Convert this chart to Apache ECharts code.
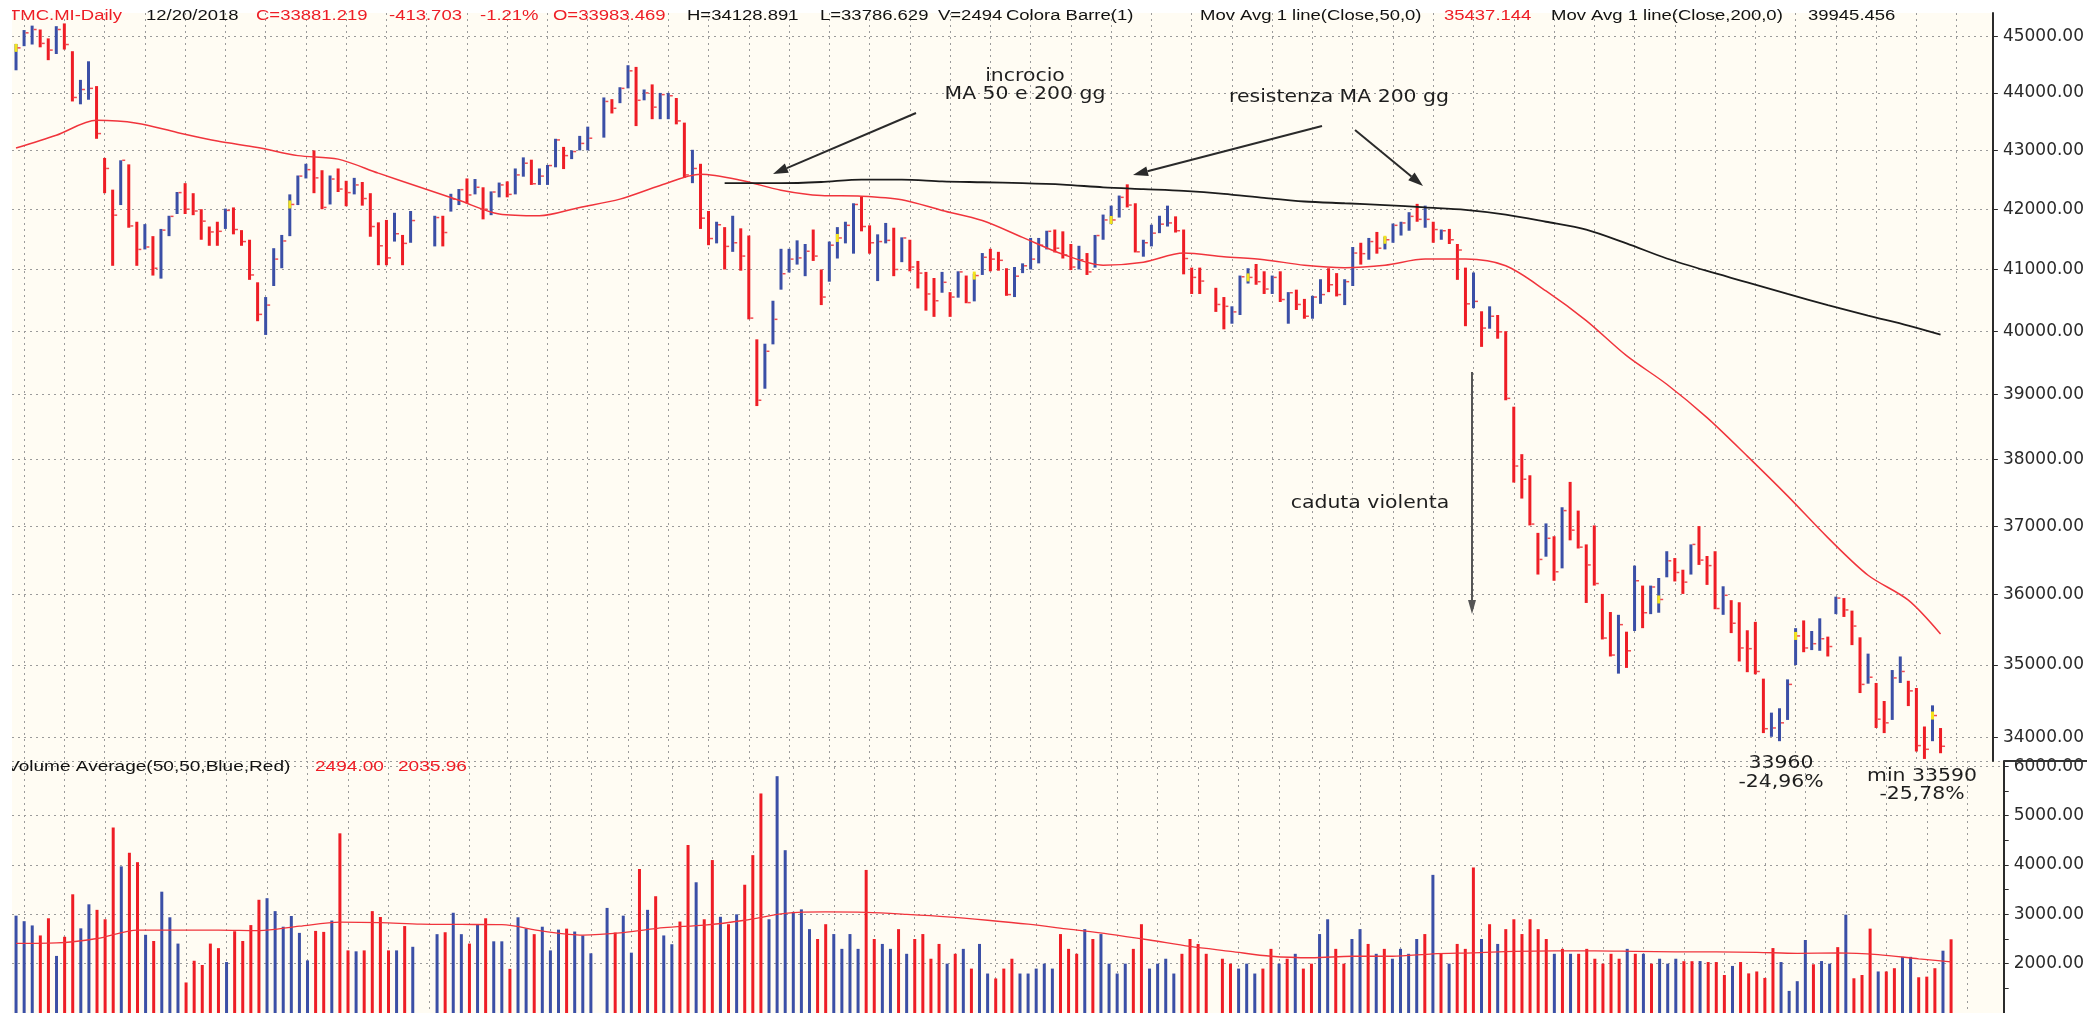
<!DOCTYPE html>
<html>
<head>
<meta charset="utf-8">
<title>TMC.MI Daily</title>
<script src="https://cdn.jsdelivr.net/npm/echarts@6.0.0/dist/echarts.min.js"></script>
<style>
  html, body { margin: 0; padding: 0; background: #fff; }
  #chart { width: 2087px; height: 1013px; }
</style>
</head>
<body>
<div id="chart"></div>
<script>
// colori
const RED = '#ee1d25';
const BLUE = '#3b4fa6';
const BG = '#fffcf3';
const GRIDLINE = '#9b9b9b';

// slot della griglia (240 sedute + margine a destra)
const slots = [];
for (let i = 1; i <= 246; i++) slots.push(String(i));

// dati giornalieri (null = seduta mancante)
const highs = [
  44870, 45120, 45200, 45130, 44970, 45190, 45240, 44740, 44230, 44560,
  44120, 42870, 42330, 42830, 42760, 41790, 41750, 41550, 41670, 41890,
  42290, 42440, 42270, 42000, 41710, 41790, 42010, 42030, 41650, 41490,
  40790, 40550, 41350, 41570, 42250, 42570, 42770, 43000, 42660, 42570,
  42690, 42480, 42530, 42460, 42270, 41780, 41820, 41940, 41570, 41970,
  null, null, 41890, 41890, 42260, 42340, 42520, 42510, 42370, 42300,
  42450, 42470, 42690, 42880, 42840, 42690, 42750, 43200, 43060, 43000,
  43250, 43410, null, 43920, 43890, 44100, 44490, 44460, 44060, 44150,
  44000, 44000, 43910, 43480, 43010, 42770, 41970, 41790, 41700, 41890,
  41680, 41560, 39870, 39800, 40490, 41340, 41340, 41480, 41420, 41660,
  41000, 41460, 41700, 41790, 42100, 42210, 41730, 41580, 41770, 41690,
  41530, 41490, 41140, 40960, 40860, 40960, 40630, 40970, 40900, 40930,
  41270, 41340, 41290, 41020, 41040, 41100, 41520, 41520, 41640, 41660,
  41630, 41420, 41390, 41270, 41570, 41910, 42060, 42230, 42420, 42100,
  41490, 41740, 41890, 42060, 41880, 41660, 41030, 41030, null, 40700,
  40550, 40400, 40900, 41020, 41090, 40970, 40900, 40970, 40630, 40670,
  40520, 40570, 40840, 41020, 40940, 40840, 41370, 41440, 41520, 41620,
  41540, 41760, 41790, 41950, 42090, 42060, 41790, 41660, 41670, 41420,
  41030, 40950, 40320, 40400, 40260, 40000, 38810, 38080, 37760, 36900,
  37040, 36850, 37280, 37660, 37230, 36730, 37010, 36010, 35750, 35710,
  35470, 36420, 36130, 36130, 36240, 36630, 36530, 36360, 36730, 37000,
  36560, 36630, 36120, 35920, 35890, 35490, 35610, 34810, 34340, 34400,
  34800, 35520, 35630, 35480, 35660, 35400, 35970, 35950, 35770, 35390,
  35160, 34750, 34500, 34930, 35120, 34780, 34680, 34150, 34440, 34129
];
const lows = [
  44400, 44830, 44860, 44810, 44580, 44690, 44770, 43850, 43800, 43880,
  43200, 42270, 41060, 42070, 41690, 41060, 41330, 40900, 40850, 41550,
  41920, 41920, 41900, 41490, 41390, 41390, 41670, 41580, 41390, 40830,
  40160, 39940, 40730, 41020, 41550, 42070, 42520, 42270, 42000, 42080,
  42290, 42050, 42250, 42060, 41540, 41070, 41070, 41460, 41070, 41440,
  null, null, 41380, 41380, 41960, 42070, 42100, 42250, 41830, 41900,
  42200, 42200, 42250, 42550, 42410, 42410, 42410, 42710, 42680, 42850,
  43000, 43000, null, 43220, 43640, 43820, 44080, 43420, 43870, 43540,
  43540, 43540, 43450, 42530, 42440, 41670, 41400, 41430, 41000, 41290,
  40980, 40190, 38820, 39090, 39790, 40670, 40950, 41080, 40890, 41140,
  40420, 40800, 41180, 41430, 41260, 41630, 41260, 40810, 41430, 40890,
  41120, 40970, 40690, 40330, 40230, 40620, 40230, 40540, 40450, 40480,
  40910, 40970, 40980, 40570, 40550, 40940, 41000, 41100, 41330, 41280,
  41180, 40990, 41000, 40910, 41030, 41490, 41750, 41860, 42030, 41280,
  41210, 41380, 41600, 41710, 41610, 40920, 40600, 40600, null, 40310,
  40030, 40120, 40260, 40770, 40750, 40600, 40600, 40470, 40120, 40340,
  40200, 40200, 40440, 40630, 40560, 40420, 40730, 41080, 41160, 41260,
  41330, 41440, 41560, 41640, 41790, 41690, 41440, 41490, 41420, 40830,
  40080, 40370, 39750, 40040, 39880, 38910, 37650, 37410, 37010, 36290,
  36550, 36200, 36380, 36790, 36670, 35880, 36130, 35360, 35120, 34880,
  34960, 35480, 35520, 35720, 35740, 36250, 36190, 36010, 36290, 36430,
  36140, 35790, 35710, 35450, 35050, 34900, 34870, 34060, 34010, 33950,
  34240, 35000, 35180, 35210, 35200, 35120, 35720, 35680, 35280, 34610,
  34740, 34130, 34060, 34240, 34750, 34430, 33810, 33710, 33950, 33787
];
const closes = [
  44800, 45070, 45130, 44880, 44760, 45130, 44860, 43920, 44060, 44080,
  43290, 42690, 41900, 42830, 41720, 41330, 41370, 41020, 41650, 41880,
  42280, 42000, 41970, 41800, 41620, 41630, 41980, 41660, 41460, 40910,
  40270, 40420, 41170, 41470, 42080, 42560, 42670, 42530, 42030, 42510,
  42340, 42280, 42410, 42180, 41710, 41390, 41190, 41590, 41430, 41810,
  null, null, 41860, 41610, 42170, 42330, 42240, 42370, 42000, 42290,
  42410, 42250, 42580, 42780, 42430, 42560, 42740, 43180, 42910, 42980,
  43120, 43210, null, 43850, 43730, 44080, 44390, 43870, 44000, 43750,
  43970, 43950, 43510, 42580, 42690, 41850, 41510, 41740, 41380, 41440,
  41220, 40210, 38910, 39680, 40190, 40930, 41170, 41190, 41300, 41220,
  40550, 41400, 41520, 41730, 42080, 41710, 41440, 41460, 41480, 41000,
  41520, 41040, 40940, 40600, 40490, 40790, 40550, 40960, 40460, 40900,
  41200, 41170, 41150, 40590, 40890, 41060, 41170, 41400, 41630, 41350,
  41240, 41040, 41160, 40960, 41560, 41820, 41820, 42200, 42070, 41290,
  41440, 41600, 41750, 41770, 41640, 41180, 40870, 40810, null, 40430,
  40400, 40310, 40880, 40870, 40800, 40680, 40870, 40510, 40620, 40430,
  40240, 40550, 40590, 40750, 40590, 40800, 41270, 41260, 41460, 41350,
  41490, 41730, 41770, 41880, 41830, 41830, 41660, 41640, 41490, 41320,
  40440, 40480, 40050, 40240, 39990, 38940, 37900, 37700, 37030, 36510,
  36820, 36330, 37230, 36940, 36690, 36430, 36160, 35380, 35140, 35570,
  35200, 36200, 35740, 36110, 35930, 36490, 36320, 36180, 36730, 36500,
  36420, 35800, 35990, 35590, 35240, 35230, 34910, 34120, 34130, 34200,
  34730, 35410, 35240, 35300, 35370, 35260, 35950, 35780, 35550, 34730,
  34830, 34250, 34200, 34820, 34910, 34640, 33890, 33840, 34300, 33881
];
// B = barra blu (rialzo), R = barra rossa (ribasso)
const colours = (
  'BBBRRBRRBB' + 'RRRBRRBRBB' + 'BRRRRRBRRR' + 'RBBBBBBRRB' + 'RRBRRRRBRB' +
  '--BRBBRBRB' + 'BRBBRBBBRB' + 'BB-BRBBRBR' + 'BBRRBRRBRB' + 'RRRBBBBBBR' +
  'RBBBBRRBBR' + 'BRRRRBRBRB' + 'BRRRBBBBBR' + 'RRBRBBBBRR' + 'BBBBRRRR-R' +
  'RBBBRRBRBR' + 'RBBRRBBRBR' + 'BBBBRBRBRR' + 'RBRBRRRRRR' + 'BRBRRRRRRB' +
  'RBRBBBRRBR' + 'RRBRRRRRBB' + 'BBRBBRBRRR' + 'BRRBBRRRBR'
).split('');
const yellowBars = [0, 34, 102, 119, 136, 153, 170, 204, 221, 238];

const volumes = [
  2973, 2861, 2775, 2572, 2920, 2157, 2545, 3406, 2716, 3203,
  3091, 2900, 4760, 3972, 4248, 4057, 2585, 2460, 3459, 2940,
  2407, 1619, 2059, 1973, 2407, 2315, 2033, 2657, 2460, 2782,
  3295, 3327, 3065, 2749, 2966, 2624, 2066, 2664, 2644, 2874,
  4642, 2269, 2250, 2269, 3065, 2946, 2269, 2269, 2762, 2342,
  null, null, 2598, 2637, 3032, 2598, 2407, 2789, 2920, 2453,
  2453, 1895, 2940, 2716, 2598, 2749, 2269, 2690, 2710, 2651,
  2572, 2210, null, 3130, 2631, 2973, 2223, 3919, 3091, 3367,
  2572, 2394, 2854, 4405, 3650, 2900, 4100, 2950, 2800, 3000,
  3600, 4200, 5450, 2900, 5800, 4300, 3050, 3100, 2700, 2500,
  2800, 2600, 2300, 2600, 2300, 3900, 2500, 2400, 2300, 2700,
  2200, 2500, 2600, 2100, 2400, 2000, 2200, 2300, 1900, 2400,
  1800, 1700, 1900, 2100, 1800, 1800, 1900, 2000, 1900, 2600,
  2300, 2200, 2700, 2500, 2600, 2000, 1800, 2000, 2300, 2800,
  1900, 2000, 2100, 1800, 2200, 2500, 2400, 2200, null, 2100,
  2000, 1900, 2000, 1800, 1900, 2300, 2000, 2100, 2200, 1900,
  2000, 2600, 2900, 2300, 2000, 2500, 2700, 2400, 2200, 2300,
  2100, 2300, 2200, 2500, 2600, 3800, 2200, 2000, 2400, 2300,
  3950, 2500, 2800, 2400, 2700, 2900, 2600, 2900, 2700, 2500,
  2200, 2300, 2200, 2200, 2300, 2100, 2000, 2200, 2100, 2300,
  2200, 2200, 2000, 2100, 2000, 2100, 2050, 2050, 2053, 2033,
  2033, 1770, 1954, 2033, 1803, 1842, 1711, 2316, 2033, 1448,
  1645, 2480, 1987, 2053, 2000, 2335, 2993, 1704, 1770, 2710,
  1842, 1842, 1908, 2138, 2138, 1724, 1737, 1908, 2263, 2494
];

// medie mobili, [seduta, valore]
const ma50 = [
  [0, 43040], [5, 43260], [10, 43520], [15, 43470], [20, 43310], [25, 43160],
  [30, 43050], [35, 42910], [40, 42850], [45, 42610], [50, 42380], [55, 42150],
  [60, 41920], [65, 41890], [70, 42030], [75, 42170], [80, 42400], [85, 42590],
  [90, 42490], [95, 42320], [100, 42230], [105, 42220], [110, 42160], [115, 41980],
  [120, 41810], [125, 41530], [130, 41250], [135, 41070], [140, 41120], [145, 41270],
  [150, 41210], [155, 41160], [160, 41070], [165, 41030], [170, 41070], [175, 41170],
  [180, 41170], [185, 41060], [190, 40650], [195, 40170], [200, 39610], [205, 39160],
  [210, 38640], [215, 38050], [220, 37450], [225, 36830], [230, 36280], [235, 35920],
  [239, 35437]
];
const ma200 = [
  [88, 42440], [90, 42440], [95, 42440], [100, 42460], [105, 42500], [110, 42500],
  [115, 42470], [120, 42455], [125, 42440], [130, 42415], [135, 42370], [140, 42340],
  [145, 42310], [150, 42260], [155, 42190], [160, 42130], [165, 42100], [170, 42070],
  [175, 42030], [180, 41990], [185, 41910], [190, 41790], [195, 41660], [200, 41430],
  [205, 41180], [210, 40975], [215, 40790], [220, 40600], [225, 40420], [230, 40250],
  [235, 40090], [239, 39945]
];
const volAvg = [
  [0, 2410], [5, 2420], [10, 2510], [15, 2680], [20, 2680], [25, 2680], [30, 2670],
  [35, 2760], [40, 2840], [45, 2830], [50, 2800], [55, 2795], [60, 2790], [65, 2660],
  [70, 2580], [75, 2630], [80, 2730], [85, 2780], [90, 2880], [95, 3020], [100, 3050],
  [105, 3040], [110, 3000], [115, 2950], [120, 2880], [125, 2800], [130, 2700],
  [135, 2600], [140, 2480], [145, 2350], [150, 2250], [155, 2150], [160, 2120],
  [165, 2150], [170, 2150], [175, 2200], [180, 2220], [185, 2250], [190, 2260],
  [195, 2260], [200, 2250], [205, 2240], [210, 2237], [215, 2230], [220, 2210],
  [225, 2217], [230, 2184], [235, 2099], [239, 2036]
];

const priceTicks = [34000, 35000, 36000, 37000, 38000, 39000, 40000, 41000, 42000, 43000, 44000, 45000];

// dati per le serie
const ohlcData = [];
highs.forEach((h, i) => {
  if (h == null) return;
  ohlcData.push([i, h, lows[i], closes[i], colours[i] === 'B' ? 1 : 0, yellowBars.includes(i) ? 1 : 0]);
});
const volData = volumes.map((v, i) =>
  v == null ? '-' : { value: v, itemStyle: { color: colours[i] === 'B' ? BLUE : RED } }
);

function drawBar(params, api) {
  const i = api.value(0);
  const top = api.coord([i, api.value(1)]);
  const bottom = api.coord([i, api.value(2)]);
  const close = api.coord([i, api.value(3)]);
  const color = api.value(4) ? BLUE : RED;
  const kids = [{
    type: 'line',
    shape: { x1: top[0], y1: top[1], x2: bottom[0], y2: bottom[1] },
    style: { stroke: color, lineWidth: 3 }
  }];
  if (api.value(5)) {
    kids.push({ type: 'rect', shape: { x: close[0] - 1.5, y: close[1] - 4, width: 3, height: 8 }, style: { fill: '#f4e41c' } });
  }
  kids.push({
    type: 'line',
    shape: { x1: close[0] + 1.5, y1: close[1], x2: close[0] + 4.5, y2: close[1] },
    style: { stroke: '#f04a50', lineWidth: 1.5 }
  });
  return { type: 'group', children: kids };
}

// testi e frecce
const HEAD = '14px "Liberation Sans", Arial, sans-serif';
const NOTE = '17px "DejaVu Sans", sans-serif';

function txt(x, y, text, color, font, sx, align) {
  return {
    type: 'text', x: x, y: y, scaleX: sx, z: 150,
    style: {
      text: text, fill: color, font: font,
      align: align, verticalAlign: 'middle',
      textAlign: align, textVerticalAlign: 'middle'
    }
  };
}

function arrow(x1, y1, x2, y2, color, len, half) {
  const a = Math.atan2(y2 - y1, x2 - x1);
  const bx = x2 - len * Math.cos(a), by = y2 - len * Math.sin(a);
  const px = -Math.sin(a) * half, py = Math.cos(a) * half;
  return [
    { type: 'line', z: 150, shape: { x1: x1, y1: y1, x2: bx, y2: by }, style: { stroke: color, lineWidth: 2 } },
    { type: 'polygon', z: 150, shape: { points: [[x2, y2], [bx + px, by + py], [bx - px, by - py]] }, style: { fill: color } }
  ];
}

const header = [
  [9, 'TMC.MI-Daily', RED], [146, '12/20/2018', '#111'], [256, 'C=33881.219', RED],
  [389, '-413.703', RED], [480, '-1.21%', RED], [553, 'O=33983.469', RED],
  [687, 'H=34128.891', '#111'], [820, 'L=33786.629', '#111'], [938, 'V=2494', '#111'],
  [1006, 'Colora Barre(1)', '#111'], [1200, 'Mov Avg 1 line(Close,50,0)', '#111'],
  [1444, '35437.144', RED], [1551, 'Mov Avg 1 line(Close,200,0)', '#111'], [1808, '39945.456', '#111']
];
const volHeader = [
  [7, 'Volume Average(50,50,Blue,Red)', '#111'], [315, '2494.00', RED], [398, '2035.96', RED]
];
const notes = [
  [1025, 77, 'incrocio'], [1025, 95, 'MA 50 e 200 gg'], [1339, 98, 'resistenza MA 200 gg'],
  [1370, 504, 'caduta violenta'], [1781, 764, '33960'], [1781, 783, '-24,96%'],
  [1922, 777, 'min 33590'], [1922, 795, '-25,78%']
];

const elements = [];
header.forEach(h => elements.push(txt(h[0], 16, h[1], h[2], HEAD, 1.32, 'left')));
volHeader.forEach(h => elements.push(txt(h[0], 767, h[1], h[2], HEAD, 1.36, 'left')));
notes.forEach(n => elements.push(txt(n[0], n[1], n[2], '#1e1e1e', NOTE, 1.2, 'center')));
elements.push(...arrow(916, 113, 773, 174, '#2a2a2a', 15, 5));
elements.push(...arrow(1322, 126, 1133, 175, '#2a2a2a', 15, 5));
elements.push(...arrow(1355, 130, 1423, 186, '#2a2a2a', 15, 5));
elements.push(...arrow(1472, 372, 1472, 614, '#555555', 14, 4));
elements.push({ type: 'line', z: 150, shape: { x1: 2004, y1: 761, x2: 2087, y2: 761 }, style: { stroke: '#333', lineWidth: 2 } });
elements.push({ type: 'rect', z: 160, shape: { x: 0, y: 0, width: 12, height: 1013 }, style: { fill: '#ffffff' } });

const dotted = { color: GRIDLINE, type: [2, 4], width: 1 };
const axisFont = { fontFamily: 'DejaVu Sans', fontSize: 17, color: '#2a2a2a' };

const option = {
  animation: false,
  backgroundColor: '#ffffff',
  grid: [
    { left: 12, right: 83, top: 13, height: 748, show: true, backgroundColor: BG, borderWidth: 0 },
    { left: 12, right: 83, top: 761, height: 259, show: true, backgroundColor: BG, borderWidth: 0 }
  ],
  xAxis: [0, 1].map(g => ({
    type: 'category', gridIndex: g, data: slots, boundaryGap: true,
    axisLine: { show: false }, axisTick: { show: false }, axisLabel: { show: false },
    splitLine: { show: true, alignWithLabel: true, interval: idx => idx % 5 === 1, lineStyle: dotted }
  })),
  yAxis: [
    {
      type: 'log', logBase: 10, gridIndex: 0, position: 'right',
      min: 33682, max: 45429,
      axisLine: { show: true, lineStyle: { color: '#2b2b2b', width: 2 } },
      axisTick: { show: true, length: 5, customValues: priceTicks, lineStyle: { color: '#2b2b2b' } },
      axisLabel: Object.assign({ margin: 10, customValues: priceTicks, formatter: v => Number(v).toFixed(2) }, axisFont),
      splitLine: { show: true, lineStyle: dotted }
    },
    {
      type: 'value', gridIndex: 1, position: 'right',
      min: 1000, max: 6108, interval: 1000,
      axisLine: { show: true, lineStyle: { color: '#2b2b2b', width: 2 } },
      axisTick: { show: true, length: 5, lineStyle: { color: '#2b2b2b' } },
      minorTick: { show: true, splitNumber: 2, length: 5, lineStyle: { color: '#2b2b2b' } },
      axisLabel: Object.assign({ margin: 10, showMaxLabel: false, showMinLabel: false, formatter: v => Number(v).toFixed(2) }, axisFont),
      splitLine: { show: true, lineStyle: dotted }
    }
  ],
  series: [
    {
      type: 'custom', name: 'TMC.MI', xAxisIndex: 0, yAxisIndex: 0,
      renderItem: drawBar, encode: { x: 0, y: [1, 2, 3] }, data: ohlcData, z: 3
    },
    {
      type: 'line', name: 'MA50', xAxisIndex: 0, yAxisIndex: 0, data: ma50,
      showSymbol: false, smooth: 0.3, lineStyle: { color: '#f0343c', width: 1.5 }, z: 4
    },
    {
      type: 'line', name: 'MA200', xAxisIndex: 0, yAxisIndex: 0, data: ma200,
      showSymbol: false, smooth: 0.3, lineStyle: { color: '#1c1c1c', width: 1.8 }, z: 4
    },
    {
      type: 'bar', name: 'Volume', xAxisIndex: 1, yAxisIndex: 1, data: volData,
      barWidth: 3, z: 3
    },
    {
      type: 'line', name: 'Volume Average', xAxisIndex: 1, yAxisIndex: 1, data: volAvg,
      showSymbol: false, smooth: 0.3, lineStyle: { color: '#f0343c', width: 1.3 }, z: 4
    }
  ],
  graphic: { elements: elements }
};

const chart = echarts.init(document.getElementById('chart'));
chart.setOption(option);
</script>
</body>
</html>
